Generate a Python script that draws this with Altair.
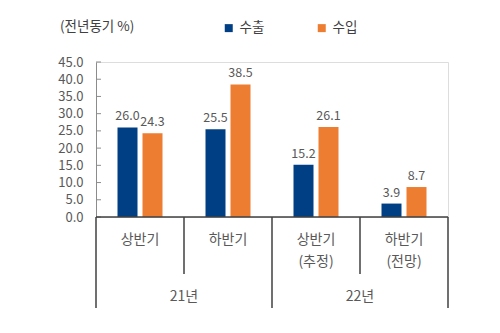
import altair as alt
import pandas as pd

FONT = "Noto Sans CJK KR"

cat_keys = ["21년 상반기", "21년 하반기", "22년 상반기(추정)", "22년 하반기(전망)"]
row1 = ["상반기", "하반기", "상반기", "하반기"]
row2 = ["", "", "(추정)", "(전망)"]
series = ["수출", "수입"]
exports = [26.0, 25.5, 15.2, 3.9]
imports = [24.3, 38.5, 26.1, 8.7]
years = ["21년", "22년"]
year_pos = [1, 3]
divider_pos = [0, 1, 2, 3, 4]
divider_long = [True, False, True, False, True]
y_ticks = [0, 5, 10, 15, 20, 25, 30, 35, 40, 45]
colors = ["#003F84", "#ED7D31"]

W, H = 352, 155

rows = []
for i, c in enumerate(cat_keys):
    rows.append({"cat": c, "series": series[0], "value": exports[i]})
    rows.append({"cat": c, "series": series[1], "value": imports[i]})
df = pd.DataFrame(rows)
df["label"] = df["value"].map(lambda v: f"{v:.1f}")

lab_df = pd.DataFrame({"cat": cat_keys, "r1": row1, "r2": row2})
div_df = pd.DataFrame({"pos": divider_pos, "long": divider_long})
year_df = pd.DataFrame({"pos": year_pos, "year": years})
tick_df = pd.DataFrame({"value": y_ticks})
base_df = pd.DataFrame({"a": [0], "b": [4]})

yaxis = alt.Axis(values=y_ticks, format=".1f", title=None, grid=False, ticks=False,
                 labelOverlap=False, labelPadding=13, labelFont=FONT, labelFontSize=13,
                 labelColor="#595959", domainColor="#8C8C8C", domainWidth=1)
yscale = alt.Scale(domain=[0, 45], nice=False, zero=True)

xband = alt.X("cat:N", scale=alt.Scale(domain=cat_keys, paddingInner=0, paddingOuter=0), axis=None)
xoff = alt.XOffset("series:N", scale=alt.Scale(domain=series, paddingInner=0.2, paddingOuter=0.86))
yq = alt.Y("value:Q", scale=yscale, axis=yaxis)

bars = alt.Chart(df).mark_bar().encode(
    x=xband, xOffset=xoff, y=yq,
    color=alt.Color("series:N", scale=alt.Scale(domain=series, range=colors),
                    legend=alt.Legend(title=None, orient="none", legendX=126, legendY=-41,
                                      direction="horizontal", symbolType="square", symbolSize=64,
                                      labelFont=FONT, labelFontSize=13.5, labelColor="#404040",
                                      columnPadding=50, symbolStrokeWidth=0, labelOffset=4)),
)

vals = alt.Chart(df).mark_text(baseline="bottom", dy=-4, font=FONT, fontSize=12.5, color="#595959").encode(
    x=xband, xOffset=xoff, y=yq, text="label:N"
)

lab1 = alt.Chart(lab_df).mark_text(font=FONT, fontSize=14, color="#595959", baseline="middle").encode(
    x=xband, y=alt.value(H + 23), text="r1:N"
)
lab2 = alt.Chart(lab_df).mark_text(font=FONT, fontSize=14, color="#595959", baseline="middle").encode(
    x=xband, y=alt.value(H + 45), text="r2:N"
)

band_layers = alt.layer(bars, vals, lab1, lab2)

xq = alt.X("pos:Q", scale=alt.Scale(domain=[0, 4], nice=False, zero=False), axis=None)

div_short = alt.Chart(div_df).transform_filter("!datum.long").mark_rule(color="#404040", strokeWidth=1.5).encode(
    x=xq, y=alt.value(H), y2=alt.value(H + 57)
)
div_long = alt.Chart(div_df).transform_filter("datum.long").mark_rule(color="#404040", strokeWidth=1.5).encode(
    x=xq, y=alt.value(H), y2=alt.value(H + 91)
)
year_txt = alt.Chart(year_df).mark_text(font=FONT, fontSize=14, color="#595959", baseline="middle").encode(
    x=xq, y=alt.value(H + 80), text="year:N"
)
baseline = alt.Chart(base_df).mark_rule(color="#404040", strokeWidth=1.5).encode(
    x=alt.X("a:Q", scale=alt.Scale(domain=[0, 4], nice=False, zero=False), axis=None), x2="b:Q", y=alt.value(H)
)
yticks = alt.Chart(tick_df).mark_rule(color="#8C8C8C", strokeWidth=1).encode(
    x=alt.value(0), x2=alt.value(5), y=yq
)
title_txt = alt.Chart(base_df).mark_text(font=FONT, fontSize=13.5, color="#404040", align="left", baseline="middle").encode(
    x=alt.value(-36), y=alt.value(-35), text=alt.value("(전년동기 %)")
)

quant_layers = alt.layer(yticks, div_short, div_long, year_txt, baseline, title_txt)

chart = alt.layer(band_layers, quant_layers).resolve_scale(x="independent").properties(
    width=W, height=H,
    autosize=alt.AutoSizeParams(type="none"),
    padding={"left": 96, "top": 62, "right": 52, "bottom": 116},
).configure_view(stroke=None).configure(background="white")

chart.save("out.html", embed_options={"renderer": "svg", "actions": False})
